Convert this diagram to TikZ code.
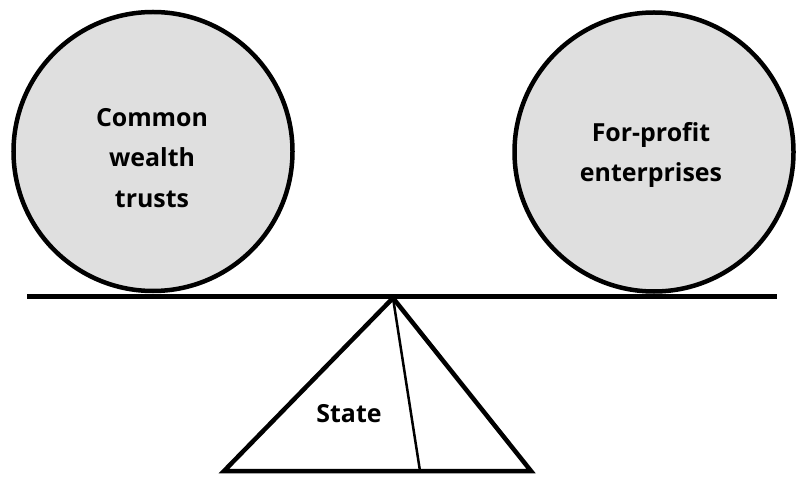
\documentclass[tikz,border=0pt]{standalone}
\usepackage{fontspec}
\setmainfont{Open Sans}
\usepackage{tikz}
\usetikzlibrary{positioning}

\tikzset{
    pot/.style={circle, draw, line width=4.5bp, fill=gray!25, minimum size=279bp, inner sep=0pt},
    label font/.style={font=\bfseries\fontsize{25}{41}\selectfont, align=center}
}

\begin{document}
\begin{tikzpicture}[x=1bp, y=-1bp, every node/.style={label font}]
    \useasboundingbox (0,0) rectangle (796,478);
    % the two weights
    \node[pot] (trusts) at (153,151.5) {};
    \node[pot] (firms) at (654,152) {};
    \node (trustsText) at (152,158) {Common\\wealth\\trusts};
    \node (firmsText) at (651,155) {For-profit\\enterprises};
    % beam
    \coordinate (beamL) at (27,296);
    \coordinate (beamR) at (777,296);
    \draw[line width=5bp] (beamL) -- (beamR);
    % fulcrum
    \coordinate (top) at (393,298);
    \coordinate (baseL) at (224,471);
    \coordinate (baseR) at (531,471);
    \coordinate (split) at (420,471);
    \draw[line width=4.5bp, line join=miter] (top) -- (baseR) -- (baseL) -- cycle;
    \draw[line width=2.5bp] (top) -- (split);
    \node (state) at (349,414) {State};
\end{tikzpicture}
\end{document}
